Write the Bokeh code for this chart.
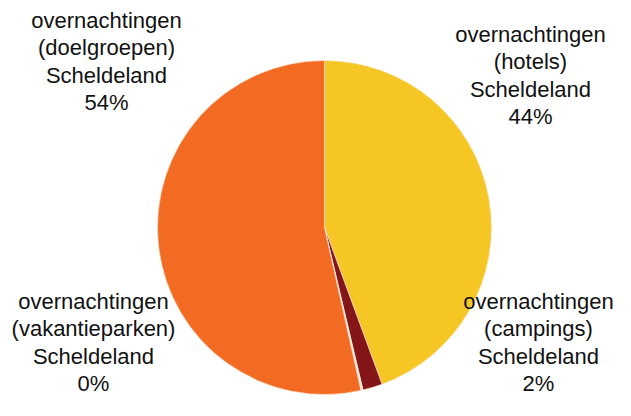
import math
from bokeh.plotting import figure
from bokeh.models import ColumnDataSource, Range1d
from bokeh.core.properties import value
from bokeh.embed import file_html
from bokeh.resources import INLINE

# data
segments = ["hotels", "campings", "vakantieparken", "doelgroepen"]
shares = [44.4, 1.9, 0.2, 53.5]
colors = ["#F6C624", "#841518", "#F3E8D8", "#F36B22"]
region = "Scheldeland"
measure = "overnachtingen"

W, H = 615, 400

# label anchor positions (screen pixels from top-left)
label_sx = [530, 538, 93, 106]
label_sy = [75, 342, 342, 61]

p = figure(width=W, height=H, output_backend="svg", toolbar_location=None,
           x_range=Range1d(0, W), y_range=Range1d(0, H), min_border=0,
           outline_line_color=None)
p.axis.visible = False
p.grid.visible = False

total = sum(shares)
starts, ends = [], []
acc = 0.0
for s in shares:
    starts.append(math.pi / 2 - 2 * math.pi * acc / total)
    acc += s
    ends.append(math.pi / 2 - 2 * math.pi * acc / total)

cx, cy, r = 324, H - 227, 167
src = ColumnDataSource(dict(start=starts, end=ends, color=colors))
p.wedge(x=cx, y=cy, radius=r, start_angle="start", end_angle="end",
        direction="clock", fill_color="color", line_color="#FBEFE0",
        line_width=0.6, source=src)

texts = [f"{measure}\n({seg})\n{region}\n{round(v)}%" for seg, v in zip(segments, shares)]
tsrc = ColumnDataSource(dict(x=label_sx, y=[H - y for y in label_sy], t=texts))
p.text(x="x", y="y", text="t", source=tsrc, text_align="center",
       text_baseline="middle", text_font=value("Liberation Sans"),
       text_font_size="22px", text_line_height=1.1, text_color="#111111")

open("out.html", "w").write(file_html(p, INLINE))
